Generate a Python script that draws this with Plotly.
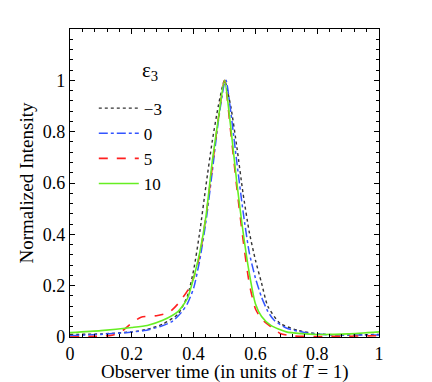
import plotly.graph_objects as go

# observer time samples, one list per curve
x_m3 = [0, 0.1, 0.2, 0.25, 0.3, 0.35, 0.38, 0.4, 0.42, 0.44, 0.46, 0.48, 0.5,
        0.52, 0.54, 0.56, 0.58, 0.6, 0.62, 0.64, 0.68, 0.74, 0.8, 0.9, 1.0]
y_m3 = [0.01, 0.012, 0.02, 0.03, 0.05, 0.09, 0.16, 0.26, 0.41, 0.59, 0.76, 0.9, 1.0,
        0.9, 0.74, 0.56, 0.41, 0.3, 0.21, 0.12, 0.053, 0.025, 0.012, 0.008, 0.01]

x_0 = [0, 0.1, 0.18, 0.24, 0.29, 0.33, 0.36, 0.38, 0.4, 0.42, 0.44, 0.46, 0.48, 0.5,
       0.505, 0.52, 0.54, 0.56, 0.58, 0.6, 0.62, 0.64, 0.66, 0.7, 0.77, 0.85, 1.0]
y_0 = [0.005, 0.01, 0.017, 0.025, 0.04, 0.06, 0.095, 0.13, 0.19, 0.3, 0.45, 0.64, 0.84, 0.99,
       1.0, 0.88, 0.68, 0.49, 0.33, 0.23, 0.155, 0.1, 0.066, 0.035, 0.015, 0.008, 0.008]

x_5 = [0, 0.1, 0.14, 0.17, 0.2, 0.23, 0.28, 0.32, 0.35, 0.38, 0.4, 0.42, 0.44, 0.46, 0.48, 0.5,
       0.52, 0.54, 0.56, 0.58, 0.6, 0.62, 0.65, 0.68, 0.72, 0.8, 0.9, 1.0]
y_5 = [0.0, 0.003, 0.008, 0.025, 0.055, 0.077, 0.083, 0.095, 0.13, 0.18, 0.23, 0.32, 0.47, 0.66, 0.85, 1.0,
       0.8, 0.58, 0.38, 0.21, 0.11, 0.07, 0.04, 0.014, 0.004, 0.002, 0.003, 0.005]

x_10 = [0, 0.1, 0.2, 0.25, 0.3, 0.35, 0.38, 0.4, 0.42, 0.44, 0.46, 0.48, 0.5,
        0.52, 0.54, 0.56, 0.58, 0.6, 0.62, 0.65, 0.7, 0.75, 0.8, 0.9, 1.0]
y_10 = [0.017, 0.025, 0.037, 0.045, 0.065, 0.1, 0.15, 0.23, 0.33, 0.47, 0.68, 0.85, 1.0,
        0.82, 0.6, 0.41, 0.25, 0.13, 0.08, 0.045, 0.02, 0.013, 0.01, 0.012, 0.02]

tick_vals = [0, 0.2, 0.4, 0.6, 0.8, 1]
tick_text = ['0', '0.2', '0.4', '0.6', '0.8', '1']

serif = 'Liberation Serif'

fig = go.Figure()

series = [
    ('\u22123', x_m3, y_m3, dict(color='#333333', dash='dot', width=1.4)),
    ('0', x_0, y_0, dict(color='#3355ff', dash='dashdot', width=1.5)),
    ('5', x_5, y_5, dict(color='#ff2020', dash='dash', width=1.6)),
    ('10', x_10, y_10, dict(color='#66ee22', dash='solid', width=1.6)),
]
for name, xs, ys, line in series:
    fig.add_trace(go.Scatter(x=xs, y=ys, mode='lines', name=name,
                             line=dict(shape='spline', smoothing=0.6, **line)))

axis_common = dict(
    showline=True, linecolor='black', linewidth=1.2, mirror='allticks',
    ticks='inside', ticklen=5, tickcolor='black', tickwidth=1,
    showgrid=False, zeroline=False, automargin=False,
    tickfont=dict(family=serif, size=18, color='black'),
    minor=dict(ticks='inside', dtick=0.04, ticklen=3, tickcolor='black', showgrid=False),
)

# the page body adds an 8px offset, so margins are trimmed on top/left
fig.update_layout(
    width=432, height=382,
    margin=dict(l=62, r=61, t=21, b=53),
    plot_bgcolor='white', paper_bgcolor='white',
    font=dict(family=serif, color='black'),
    legend=dict(x=0.077, y=0.80, xanchor='left', yanchor='top', itemwidth=40,
                bgcolor='rgba(0,0,0,0)', font=dict(family=serif, size=17)),
    annotations=[
        dict(text='\u03b5<sub>3</sub>', x=0.228, y=0.912, xref='paper', yref='paper',
             showarrow=False, font=dict(family=serif, size=21)),
        # x axis title as an annotation so it sits close under the tick labels
        dict(text='Observer time (in units of <i>T</i> = 1)', x=0.5, y=-0.113,
             xref='paper', yref='paper', xanchor='center', yanchor='middle',
             showarrow=False, font=dict(family=serif, size=19)),
    ],
)

fig.update_xaxes(range=[0, 1], tickvals=tick_vals, ticktext=tick_text, **axis_common)
fig.update_yaxes(range=[0, 1.2], tickvals=tick_vals, ticktext=tick_text,
                 title=dict(text='Normalized Intensity', standoff=4,
                            font=dict(family=serif, size=19)),
                 **axis_common)

fig.write_html("out.html")
